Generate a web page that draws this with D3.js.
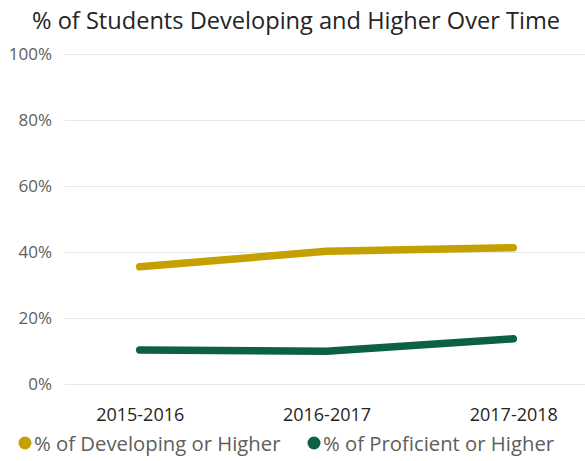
<!DOCTYPE html>
<html><head><meta charset="utf-8">
<script src="https://cdn.jsdelivr.net/npm/d3@7"></script>
<style>body{margin:0;background:#fff;}svg{display:block;}text{font-family:"Open Sans","Noto Sans",sans-serif;}</style>
</head><body>
<script>
const categories = ["2015-2016","2016-2017","2017-2018"];
const developing = [35.5, 40.2, 41.3];
const proficient = [10.3, 9.9, 13.7];
const yTicks = [0,20,40,60,80,100];
const seriesNames = ["% of Developing or Higher","% of Proficient or Higher"];
const colors = ["#C4A000","#0B6141"];

const W=585,H=461;
const svg=d3.select("body").append("svg").attr("width",W).attr("height",H);
const x=d3.scalePoint().domain(categories).range([65,588]).padding(0.4);
const y=d3.scaleLinear().domain([0,100]).range([384,54]);

svg.append("text").attr("x",296).attr("y",29).attr("text-anchor","middle")
  .attr("font-size",23.6).attr("fill","#252423").text("% of Students Developing and Higher Over Time");

const gy=svg.append("g").attr("transform","translate(65,0)")
  .call(d3.axisLeft(y).tickValues(yTicks).tickSize(-520).tickPadding(13).tickFormat(d=>d+"%"));
gy.select(".domain").remove();
gy.selectAll(".tick line").attr("stroke","#E8E8E8").attr("stroke-width",1);
gy.selectAll(".tick text").attr("fill","#605E5C").attr("font-size",17).attr("font-family","'Open Sans','Noto Sans',sans-serif");

const gx=svg.append("g").attr("transform","translate(0,384)")
  .call(d3.axisBottom(x).tickSize(0).tickPadding(24));
gx.select(".domain").remove();
gx.selectAll(".tick text").attr("fill","#252423").attr("font-size",18).attr("font-family","'Open Sans','Noto Sans',sans-serif");

const line=d3.line().x((d,i)=>x(categories[i])).y(d=>y(d));
[developing,proficient].forEach((s,i)=>{
  svg.append("path").datum(s).attr("d",line).attr("fill","none")
    .attr("stroke",colors[i]).attr("stroke-width",7.5)
    .attr("stroke-linecap","round").attr("stroke-linejoin","round");
});

const lx=[25,314];
seriesNames.forEach((n,i)=>{
  svg.append("circle").attr("cx",lx[i]).attr("cy",443).attr("r",6.5).attr("fill",colors[i]);
  svg.append("text").attr("x",lx[i]+9).attr("y",450.5).attr("font-size",20.3).attr("fill","#605E5C").text(n);
});
</script>
</body></html>
